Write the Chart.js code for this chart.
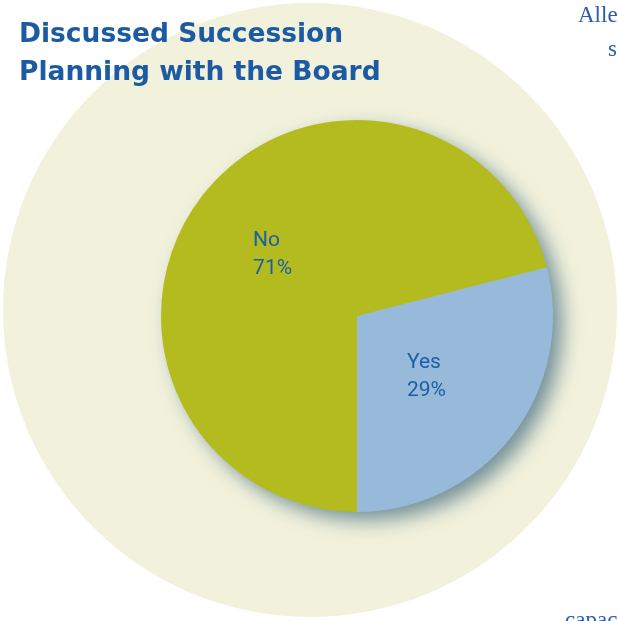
<!DOCTYPE html>
<html>
<head>
<meta charset="utf-8">
<script src="https://cdn.jsdelivr.net/npm/chart.js@4/dist/chart.umd.min.js"></script>
<style>
  html, body { margin: 0; padding: 0; background: #ffffff; }
  #wrap { width: 618px; height: 621px; position: relative; }
</style>
</head>
<body>
<div id="wrap"><canvas id="c" width="618" height="621"></canvas></div>
<script>
// ---- data ----
const categories = ["Yes", "No"];
const percentValues = [29, 71];
const titleLines = ["Discussed Succession", "Planning with the Board"];
const sideTexts = ["Alle", "s", "capac"];

// ---- styles ----
const sliceColors = ["#97badb", "#b3bb1f"];
const textBlue = "#1d5ea8";
const creamColor = "#f2f2dc";
// label anchors (baseline of first line) relative to pie centre, as fraction of radius
const labelAnchors = [[0.255, 0.265], [-0.53, -0.357]];

const backgroundPlugin = {
  id: "bgCircle",
  beforeDraw(chart) {
    const ctx = chart.ctx;
    ctx.save();
    ctx.fillStyle = "#ffffff";
    ctx.fillRect(0, 0, chart.width, chart.height);
    ctx.beginPath();
    ctx.arc(310, 310, 307, 0, Math.PI * 2);
    ctx.fillStyle = creamColor;
    ctx.fill();
    ctx.restore();
  },
  beforeDatasetsDraw(chart) {
    const arc = chart.getDatasetMeta(0).data[0];
    if (!arc) return;
    const ctx = chart.ctx;
    ctx.save();
    ctx.shadowColor = "rgba(70,110,130,0.75)";
    ctx.shadowBlur = 20;
    ctx.shadowOffsetX = 10;
    ctx.shadowOffsetY = 9;
    ctx.beginPath();
    ctx.arc(arc.x, arc.y, arc.outerRadius - 1, 0, Math.PI * 2);
    ctx.fillStyle = sliceColors[0];
    ctx.fill();
    ctx.restore();
  },
  afterDatasetsDraw(chart) {
    const ctx = chart.ctx;
    const meta = chart.getDatasetMeta(0);
    ctx.save();
    ctx.fillStyle = textBlue;
    ctx.textAlign = "left";
    ctx.textBaseline = "alphabetic";
    ctx.font = "21px Roboto";
    meta.data.forEach((arc, i) => {
      const r = arc.outerRadius;
      const x = arc.x + labelAnchors[i][0] * r;
      const y = arc.y + labelAnchors[i][1] * r;
      ctx.fillText(categories[i], x, y);
      ctx.fillText(percentValues[i] + "%", x, y + 28);
    });
    // title
    ctx.font = "bold 26.5px 'DejaVu Sans'";
    ctx.fillStyle = "#1c5ba3";
    ctx.fillText(titleLines[0], 19, 42);
    ctx.fillText(titleLines[1], 19, 80);
    // side texts from neighbouring page
    ctx.font = "23px 'Liberation Serif'";
    ctx.fillStyle = "#2a5fa8";
    ctx.fillText(sideTexts[0], 578, 22);
    ctx.fillText(sideTexts[1], 608, 56);
    ctx.fillText(sideTexts[2], 565, 627);
    ctx.restore();
  }
};

new Chart(document.getElementById("c"), {
  type: "pie",
  data: {
    labels: categories,
    datasets: [{
      data: percentValues,
      backgroundColor: sliceColors,
      borderWidth: 0,
      hoverOffset: 0
    }]
  },
  options: {
    responsive: false,
    animation: false,
    rotation: 180 - percentValues[0] * 3.6,
    layout: { padding: { left: 161, right: 65, top: 120, bottom: 109 } },
    plugins: {
      legend: { display: false },
      tooltip: { enabled: false },
      title: { display: false }
    }
  },
  plugins: [backgroundPlugin]
});
</script>
</body>
</html>
